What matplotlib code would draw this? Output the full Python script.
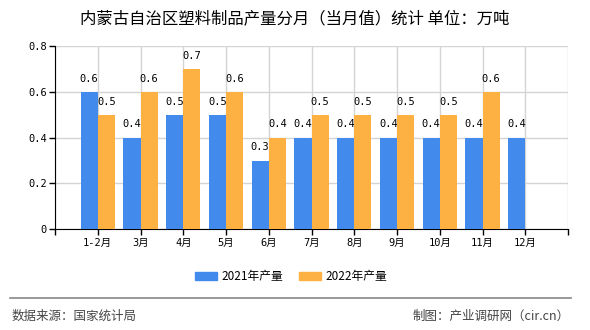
import numpy as np
import matplotlib.pyplot as plt
from matplotlib.patches import Patch

months = ["1-2月", "3月", "4月", "5月", "6月", "7月", "8月", "9月", "10月", "11月", "12月"]
v2021 = [0.6, 0.4, 0.5, 0.5, 0.3, 0.4, 0.4, 0.4, 0.4, 0.4, 0.4]
v2022 = [0.5, 0.6, 0.7, 0.6, 0.4, 0.5, 0.5, 0.5, 0.5, 0.6, None]
yticks = [0, 0.2, 0.4, 0.6, 0.8]
ytick_labels = ["0", "0.2", "0.4", "0.6", "0.8"]

blue = "#428bec"
orange = "#fcb142"
num_font = ["DejaVu Sans Mono", "Noto Sans CJK SC"]
cjk = ["Noto Sans CJK SC", "DejaVu Sans"]
plt.rcParams['font.family'] = cjk

fig = plt.figure(figsize=(5.9, 3.3), dpi=100)
ax = fig.add_axes([55/590, 1-229.3/330, 513/590, (229.3-46)/330])

x = np.arange(1, len(months) + 1)
w = 0.4
for xi, a, b in zip(x, v2021, v2022):
    ax.bar(xi - w/2, a, w, color=blue, zorder=3)
    ax.annotate(f"{a:.1f}", (xi - w/2, a), xytext=(0, 9.5), textcoords="offset points",
                ha="center", va="center", fontsize=7.5, family=num_font)
    if b is not None:
        ax.bar(xi + w/2, b, w, color=orange, zorder=3)
        ax.annotate(f"{b:.1f}", (xi + w/2, b), xytext=(0, 9.5), textcoords="offset points",
                    ha="center", va="center", fontsize=7.5, family=num_font)

ax.set_xlim(0, 12)
ax.set_ylim(0, 0.8)
ax.set_xticks(np.arange(0, 13))
ax.set_xticklabels([""] + months + [""], family=num_font, fontsize=7.5)
ax.set_yticks(yticks)
ax.set_yticklabels(ytick_labels, family=num_font, fontsize=7.5)
ax.tick_params(length=4, width=1, color="black", pad=2)

ax.grid(True, color="#d4d4d4", lw=1, zorder=0)
ax.spines["top"].set_visible(False)
ax.spines["right"].set_visible(False)
ax.spines["left"].set_color("black")
ax.spines["bottom"].set_color("black")
ax.set_axisbelow(True)

fig.text(0.5, 1-18.5/330, "内蒙古自治区塑料制品产量分月（当月值）统计 单位：万吨",
         ha="center", va="center", fontsize=11.8, color="black")

handles = [Patch(color=blue, label="2021年产量"), Patch(color=orange, label="2022年产量")]
fig.legend(handles=handles, loc="center", bbox_to_anchor=(291/590, 1-276.7/330), ncol=2,
           frameon=False, fontsize=8.5, handlelength=1.9, handleheight=0.75,
           handletextpad=0.35, columnspacing=1.35)

fig.add_artist(plt.Line2D([10/590, 571/590], [1-298.3/330, 1-298.3/330],
                          color="#888888", lw=1.2, transform=fig.transFigure))
fig.text(12/590, 1-316/330, "数据来源：国家统计局", ha="left", va="center",
         fontsize=9, color="#444444")
fig.text(570/590, 1-316/330, "制图：产业调研网（cir.cn）", ha="right", va="center",
         fontsize=9, color="#444444")

fig.savefig("out.png", dpi=100)
